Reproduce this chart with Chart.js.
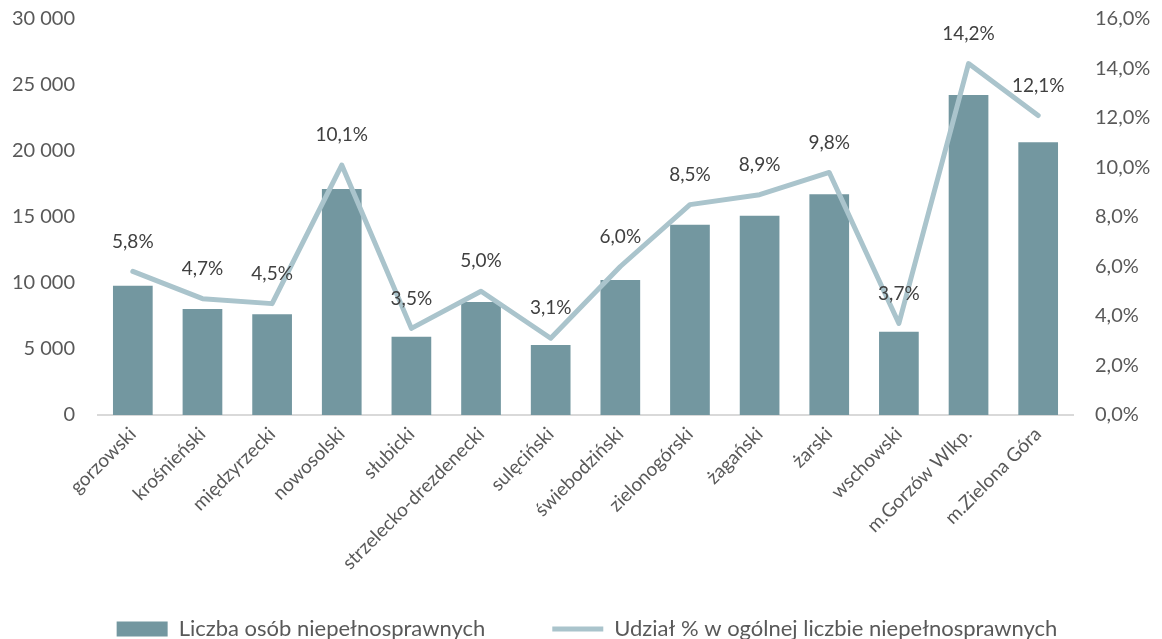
<!DOCTYPE html>
<html>
<head>
<meta charset="utf-8">
<script src="https://cdn.jsdelivr.net/npm/chart.js@4"></script>
<style>
  html, body { margin: 0; padding: 0; background: #fff; }
  #wrap { width: 1162px; height: 639px; }
</style>
</head>
<body>
<div id="wrap"><canvas id="chart" width="1162" height="639"></canvas></div>
<script>
// powiaty
const categories = ['gorzowski', 'krośnieński', 'międzyrzecki', 'nowosolski', 'słubicki',
    'strzelecko-drezdenecki', 'sulęciński', 'świebodziński', 'zielonogórski', 'żagański',
    'żarski', 'wschowski', 'm.Gorzów Wlkp.', 'm.Zielona Góra'];

// liczba osób niepełnosprawnych
const liczbaOsob = [9800, 8030, 7630, 17120, 5930, 8560, 5300, 10230, 14420, 15100, 16720, 6310, 24240, 20660];

// udział % w ogólnej liczbie niepełnosprawnych
const udzial = [5.8, 4.7, 4.5, 10.1, 3.5, 5.0, 3.1, 6.0, 8.5, 8.9, 9.8, 3.7, 14.2, 12.1];

const leftTicks = [0, 5000, 10000, 15000, 20000, 25000, 30000];
const rightTicks = [0, 2, 4, 6, 8, 10, 12, 14, 16];

const FONT = 'Lato, "Open Sans", sans-serif';

function fmtNum(v) {
    return String(v).replace(/\B(?=(\d{3})+(?!\d))/g, ' ');
}
function fmtPct(v, d) {
    return v.toFixed(d).replace('.', ',') + '%';
}

// etykiety danych nad linią
const lineLabels = {
    id: 'lineLabels',
    afterLayout(chart) {
        // nie obcinamy długich etykiet osi X
        chart.scales.x._computeLabelArea = () => undefined;
    },
    afterDatasetsDraw(chart) {
        const meta = chart.getDatasetMeta(1);
        const ctx = chart.ctx;
        ctx.save();
        ctx.font = '19px ' + FONT;
        ctx.fillStyle = '#404040';
        ctx.textAlign = 'center';
        ctx.textBaseline = 'middle';
        meta.data.forEach((pt, i) => {
            ctx.fillText(fmtPct(udzial[i], 1), pt.x, pt.y - 30);
        });
        ctx.restore();
    }
};

new Chart(document.getElementById('chart').getContext('2d'), {
    data: {
        labels: categories,
        datasets: [{
            type: 'bar',
            label: 'Liczba osób niepełnosprawnych',
            data: liczbaOsob,
            backgroundColor: '#7397a0',
            borderWidth: 0,
            barPercentage: 0.57,
            categoryPercentage: 1,
            yAxisID: 'y',
            pointStyle: 'rect',
            order: 2
        }, {
            type: 'line',
            label: 'Udział % w ogólnej liczbie niepełnosprawnych',
            data: udzial,
            borderColor: '#aac4cc',
            backgroundColor: '#aac4cc',
            borderWidth: 5,
            borderJoinStyle: 'round',
            borderCapStyle: 'round',
            tension: 0,
            pointRadius: 0,
            pointHoverRadius: 0,
            pointStyle: 'line',
            yAxisID: 'y1',
            order: 1
        }]
    },
    options: {
        responsive: false,
        animation: false,
        layout: { padding: { top: 19, bottom: -11, left: 12, right: 0 } },
        plugins: {
            legend: {
                position: 'bottom',
                labels: {
                    usePointStyle: true,
                    pointStyleWidth: 51,
                    boxWidth: 51,
                    boxHeight: 15,
                    padding: 67,
                    color: '#595959',
                    font: { family: FONT, size: 22 },
                    sort: (a, b) => a.datasetIndex - b.datasetIndex
                }
            },
            tooltip: { enabled: false }
        },
        scales: {
            x: {
                grid: { display: false, drawTicks: false },
                border: { display: true, color: '#d9d9d9', width: 2 },
                ticks: {
                    color: '#595959',
                    font: { family: FONT, size: 19 },
                    minRotation: 45,
                    maxRotation: 45,
                    autoSkip: false,
                    padding: 8
                },
                afterFit(scale) { scale.height = 136; }
            },
            y: {
                position: 'left',
                min: 0,
                max: 30000,
                afterBuildTicks(scale) { scale.ticks = leftTicks.map(v => ({ value: v })); },
                grid: { display: false, drawTicks: false },
                border: { display: false },
                ticks: {
                    color: '#595959',
                    font: { family: FONT, size: 20 },
                    padding: 23,
                    callback: v => fmtNum(v)
                },
                afterFit(scale) {
                    scale.width = 86;
                    scale.paddingTop = 0;
                    scale.paddingBottom = 0;
                }
            },
            y1: {
                position: 'right',
                min: 0,
                max: 16,
                afterBuildTicks(scale) { scale.ticks = rightTicks.map(v => ({ value: v })); },
                grid: { display: false, drawTicks: false },
                border: { display: false },
                ticks: {
                    color: '#595959',
                    font: { family: FONT, size: 20 },
                    padding: 22,
                    callback: v => fmtPct(v, 1)
                },
                afterFit(scale) {
                    scale.width = 89;
                    scale.paddingTop = 0;
                    scale.paddingBottom = 0;
                }
            }
        }
    },
    plugins: [lineLabels]
});
</script>
</body>
</html>
